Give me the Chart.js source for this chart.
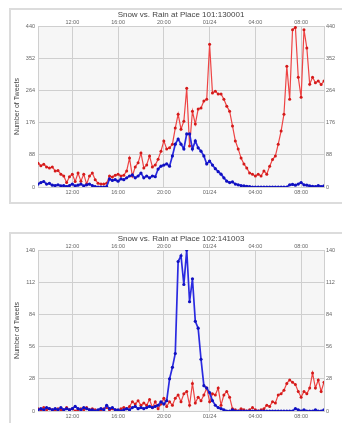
<!DOCTYPE html>
<html>
<head>
<meta charset="utf-8">
<script src="https://cdn.jsdelivr.net/npm/chart.js@4.4.0/dist/chart.umd.min.js"></script>
<style>
    html, body { margin: 0; padding: 0; background: #fff; }
    body { width: 342px; height: 423px; overflow: hidden; position: relative; }
    .panel { position: absolute; left: 9px; width: 400px; height: 192px; border: 2px solid #dcdcdc; background: #fff; }
    .panel canvas { display: block; }
</style>
</head>
<body>
<div class="panel" style="top:8px"><canvas id="chart1" width="340" height="192"></canvas></div>
<div class="panel" style="top:232px"><canvas id="chart2" width="340" height="192"></canvas></div>
<script>
// time axis, hours counted from 01/23 00:00, one sample every 15 min
const startHour = 9;
const stepHours = 0.25;
const endHour = 34;
const tickHours = [12, 16, 20, 24, 28, 32];
const tickLabels = ['12:00', '16:00', '20:00', '01/24', '04:00', '08:00'];

// Place 101:130001
const title1 = 'Snow vs. Rain at Place 101:130001';
const yTicks1 = [0, 88, 176, 264, 352, 440];
const snow1 = [
    65, 58, 62, 55, 52, 55, 44, 45, 35, 30,
    12, 28, 35, 15, 38, 16, 35, 8, 30, 38,
    20, 10, 8, 8, 10, 30, 27, 32, 35, 30,
    32, 44, 79, 30, 55, 66, 93, 52, 60, 85,
    55, 60, 76, 98, 126, 104, 107, 117, 161, 199,
    158, 180, 270, 112, 207, 172, 213, 216, 235, 240,
    390, 257, 262, 254, 254, 240, 221, 207, 167, 126,
    104, 79, 63, 52, 38, 35, 30, 35, 30, 44,
    35, 57, 75, 85, 117, 153, 199, 330, 240, 430,
    436, 300, 245, 430, 380, 281, 300, 285, 290, 280,
    290
];
const rain1 = [
    8, 12, 15, 8, 10, 5, 4, 6, 3, 4,
    1, 4, 8, 3, 5, 8, 3, 6, 8, 4,
    1, 0, 0, 0, 1, 22, 18, 20, 16, 22,
    20, 25, 30, 33, 25, 30, 38, 25, 30, 25,
    30, 28, 49, 57, 60, 63, 57, 85, 117, 131,
    117, 104, 145, 145, 104, 126, 107, 98, 85, 63,
    71, 60, 50, 42, 35, 25, 16, 12, 14, 8,
    6, 4, 3, 2, 1, 0, 0, 0, 0, 0,
    0, 0, 0, 0, 0, 0, 0, 0, 6, 7,
    5, 8, 12, 6, 5, 3, 2, 1, 4, 1,
    3
];

// Place 102:141003
const title2 = 'Snow vs. Rain at Place 102:141003';
const yTicks2 = [0, 28, 56, 84, 112, 140];
const snow2 = [
    2, 1, 3, 1, 2, 1, 0, 2, 1, 1,
    3, 1, 2, 0, 1, 2, 1, 3, 1, 2,
    1, 0, 1, 2, 3, 1, 2, 1, 0, 2,
    3, 2, 4, 8, 6, 9, 5, 7, 5, 10,
    3, 8, 2, 6, 11, 4, 8, 5, 11, 14,
    8, 15, 17, 5, 24, 7, 12, 9, 14, 20,
    8, 15, 14, 20, 5, 14, 17, 12, 2, 1,
    0, 2, 1, 0, 1, 3, 1, 0, 1, 2,
    5, 4, 8, 7, 14, 15, 18, 24, 27, 25,
    23, 17, 12, 17, 15, 20, 33, 20, 27, 17,
    25
];
const rain2 = [
    1, 2, 1, 3, 2, 1, 2, 1, 3, 1,
    2, 1, 2, 4, 2, 1, 3, 2, 1, 1,
    0, 1, 2, 1, 5, 2, 3, 1, 1, 0,
    1, 2, 1, 3, 4, 2, 3, 2, 3, 4,
    3, 4, 5, 8, 6, 9, 28, 38, 50, 130,
    135, 110, 140, 95, 115, 78, 72, 45, 22, 20,
    16, 9, 5, 3, 2, 1, 0, 0, 1, 0,
    0, 0, 0, 0, 0, 0, 0, 0, 0, 0,
    0, 0, 0, 0, 0, 0, 0, 0, 0, 0,
    2, 1, 0, 1, 0, 0, 0, 1, 0, 0,
    1
];

const corNeve = '#ee4444';
const corNevePonto = '#d41a1a';
const corChuva = '#2a2ae0';
const corChuvaPonto = '#1010c0';
const fonte = "'Liberation Sans', Arial, sans-serif";

const pontos = (valores) => valores.map((v, i) => ({ x: startHour + i * stepHours, y: v }));

// fundo cinza da area do grafico
const fundo = {
    id: 'fundo',
    beforeDraw: (chart) => {
        const a = chart.chartArea;
        const ctx = chart.ctx;
        ctx.save();
        ctx.fillStyle = '#f6f6f6';
        ctx.fillRect(a.left, a.top, a.right - a.left, a.bottom - a.top);
        ctx.restore();
    }
};

const eixoTempo = (pos) => ({
    type: 'linear',
    position: pos,
    min: startHour,
    max: endHour,
    afterBuildTicks: (s) => { s.ticks = tickHours.map(v => ({ value: v })); },
    afterFit: (s) => { s.height = pos == 'top' ? 6.4 : 12; },
    grid: { display: pos == 'bottom', color: '#cfcfcf', drawTicks: false },
    border: { display: true, color: '#cfcfcf' },
    ticks: {
        padding: pos == 'top' ? 0 : 2,
        maxRotation: 0,
        font: { family: fonte, size: 5.5 },
        color: '#666',
        callback: (v) => tickLabels[tickHours.indexOf(v)]
    }
});

const eixoY = (pos, yTicks) => ({
    type: 'linear',
    position: pos,
    min: yTicks[0],
    max: yTicks[yTicks.length - 1],
    afterBuildTicks: (s) => { s.ticks = yTicks.map(v => ({ value: v })); },
    afterFit: (s) => { s.width = 27; },
    grid: { display: pos == 'left', color: '#cfcfcf', drawTicks: false },
    border: { display: true, color: '#cfcfcf' },
    title: {
        display: pos == 'left',
        text: 'Number of Tweets',
        font: { family: fonte, size: 7 },
        color: '#444',
        padding: { top: 2, bottom: 0 }
    },
    ticks: {
        padding: pos == 'left' ? 3 : 2,
        font: { family: fonte, size: 5.5 },
        color: '#666'
    }
});

const novoGrafico = (id, titulo, yTicks, neve, chuva) => {
    const ctx = document.getElementById(id).getContext('2d');
    return new Chart(ctx, {
        type: 'line',
        data: {
            datasets: [{
                label: 'Rain',
                data: pontos(chuva),
                borderColor: corChuva,
                backgroundColor: corChuvaPonto,
                pointBackgroundColor: corChuvaPonto,
                pointBorderWidth: 0,
                pointRadius: 1.6,
                borderWidth: 1.7,
                tension: 0
            }, {
                label: 'Snow',
                data: pontos(neve),
                borderColor: corNeve,
                backgroundColor: corNevePonto,
                pointBackgroundColor: corNevePonto,
                pointBorderWidth: 0,
                pointRadius: 1.5,
                borderWidth: 1.2,
                tension: 0
            }]
        },
        options: {
            responsive: false,
            animation: false,
            layout: { padding: { top: 0, bottom: 3, left: 0, right: 0 } },
            plugins: {
                legend: { display: false },
                tooltip: { enabled: false },
                title: {
                    display: true,
                    text: titulo,
                    color: '#444',
                    font: { family: fonte, size: 8, weight: 'normal' },
                    padding: { top: 0, bottom: 0 }
                }
            },
            scales: {
                x2: eixoTempo('top'),
                x: eixoTempo('bottom'),
                y: eixoY('left', yTicks),
                y2: eixoY('right', yTicks)
            }
        },
        plugins: [fundo]
    });
};

novoGrafico('chart1', title1, yTicks1, snow1, rain1);
novoGrafico('chart2', title2, yTicks2, snow2, rain2);
</script>
</body>
</html>
